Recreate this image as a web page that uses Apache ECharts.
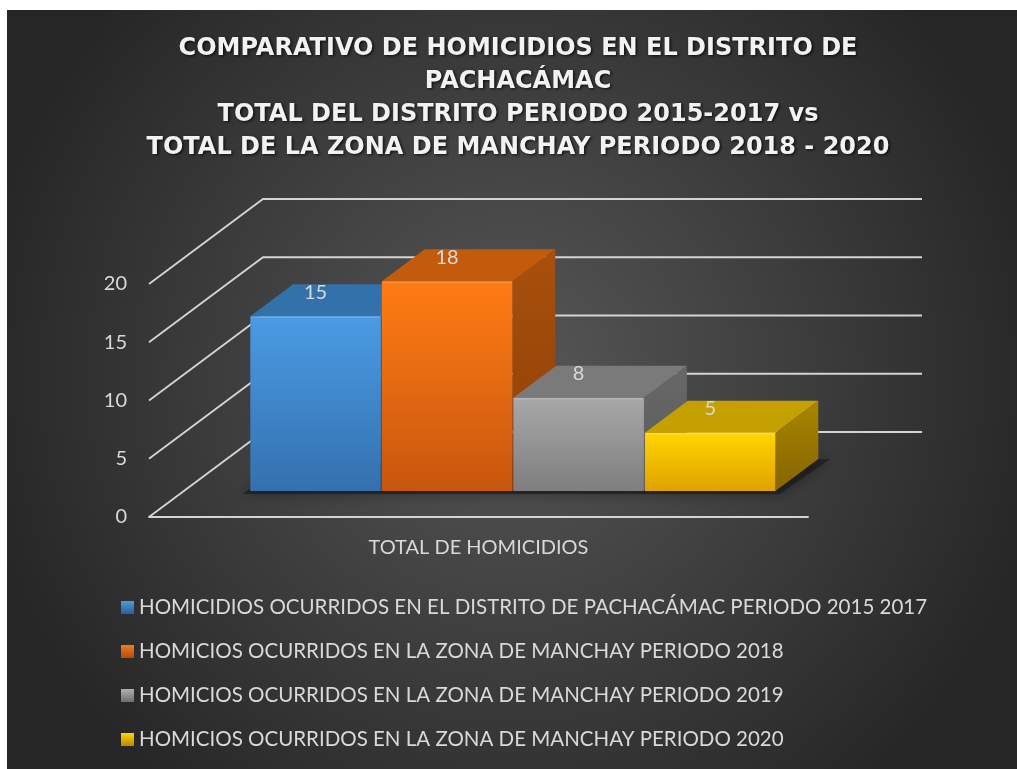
<!DOCTYPE html>
<html>
<head>
<meta charset="utf-8">
<title>Comparativo de homicidios</title>
<script src="https://cdn.jsdelivr.net/npm/echarts@6/dist/echarts.min.js"></script>
<style>
  html, body { margin: 0; padding: 0; background: #ffffff; }
  #chart { width: 1017px; height: 769px; }
</style>
</head>
<body>
<div id="chart"></div>
<script>
// ---- data ----
const categories = ['TOTAL DE HOMICIDIOS'];
const seriesNames = [
  'HOMICIDIOS OCURRIDOS EN EL DISTRITO DE PACHACÁMAC PERIODO 2015 2017',
  'HOMICIOS OCURRIDOS EN LA ZONA DE MANCHAY PERIODO 2018',
  'HOMICIOS OCURRIDOS EN LA ZONA DE MANCHAY PERIODO 2019',
  'HOMICIOS OCURRIDOS EN LA ZONA DE MANCHAY PERIODO 2020'
];
const seriesValues = [15, 18, 8, 5];
const yTicks = [0, 5, 10, 15, 20];
const titleLines = [
  'COMPARATIVO DE HOMICIDIOS EN EL DISTRITO DE',
  'PACHACÁMAC',
  'TOTAL DEL DISTRITO PERIODO 2015-2017 vs',
  'TOTAL DE LA ZONA DE MANCHAY PERIODO 2018 - 2020'
];

// ---- 3D look: oblique projection of the back wall and the bar depth ----
const WALL_DX = 114, WALL_DY = -85;   // offset of the back wall
const BAR_FRONT = 0.306;              // where the bars' front faces sit (fraction of depth)
const BAR_DEPTH = 0.376;              // depth of each bar (fraction of depth)
const BAR_SHARE = 0.1996;             // width of one bar as share of the category band

const palette = [
  { front: ['#4a9be4', '#3470ae'], top: '#3371aa', side: ['#2f6499', '#24507c'], legend: ['#4a9be4', '#2c5f94'] },
  { front: ['#ff7c14', '#c8560f'], top: '#c25b0c', side: ['#a9500c', '#8e3f08'], legend: ['#f57a1c', '#b34c0c'] },
  { front: ['#a8a8a8', '#7e7e7e'], top: '#7a7a7a', side: ['#686868', '#5a5a5a'], legend: ['#b0b0b0', '#6e6e6e'] },
  { front: ['#ffd600', '#e0a200'], top: '#c4a000', side: ['#a88600', '#876400'], legend: ['#ffd600', '#b88a00'] }
];

const LABEL_FONT = 'Lato, "Open Sans", sans-serif';
const TEXT_COLOR = '#d9d9d9';

function vGrad(c) {
  return new echarts.graphic.LinearGradient(0, 0, 0, 1, [
    { offset: 0, color: c[0] }, { offset: 1, color: c[1] }
  ]);
}

function barGeometry(params, api, idx, value) {
  const base = api.coord([0, 0]);
  const top = api.coord([0, value]);
  const band = api.size([1, 0])[0];
  const barW = band * BAR_SHARE;
  const left = base[0] - 2 * barW + WALL_DX * BAR_FRONT;
  const x0 = left + idx * barW;
  const x1 = x0 + barW - 1;
  const yb = base[1] + WALL_DY * BAR_FRONT;
  const yt = top[1] + WALL_DY * BAR_FRONT;
  const dx = WALL_DX * BAR_DEPTH, dy = WALL_DY * BAR_DEPTH;
  return { x0, x1, yb, yt, dx, dy };
}

function barRenderer(idx) {
  return function (params, api) {
    const v = api.value(1);
    const g = barGeometry(params, api, idx, v);
    const c = palette[idx];
    return {
      type: 'group',
      children: [
        { // side face
          type: 'polygon',
          shape: { points: [[g.x1, g.yt], [g.x1 + g.dx, g.yt + g.dy], [g.x1 + g.dx, g.yb + g.dy], [g.x1, g.yb]] },
          style: { fill: vGrad(c.side) }
        },
        { // top face
          type: 'polygon',
          shape: { points: [[g.x0, g.yt], [g.x1, g.yt], [g.x1 + g.dx, g.yt + g.dy], [g.x0 + g.dx, g.yt + g.dy]] },
          style: { fill: c.top }
        },
        { // front face
          type: 'rect',
          shape: { x: g.x0, y: g.yt, width: g.x1 - g.x0, height: g.yb - g.yt },
          style: { fill: vGrad(c.front) }
        },
        { // bevel highlight along the top front edge
          type: 'line',
          shape: { x1: g.x0 + 1, y1: g.yt + 1, x2: g.x1 - 1, y2: g.yt + 1 },
          style: { stroke: 'rgba(255,255,255,0.18)', lineWidth: 1.5 }
        },
        { // value label
          type: 'text',
          x: (g.x0 + g.x1) / 2,
          y: g.yt + g.dy + 8,
          style: {
            text: String(v), fill: TEXT_COLOR, font: '20px ' + LABEL_FONT,
            align: 'center', verticalAlign: 'middle'
          }
        }
      ]
    };
  };
}

// back-wall gridlines running from the front edge to the back wall
function gridRenderer(params, api) {
  const v = api.value(1);
  const p = api.coord([0, v]);
  const gx = params.coordSys.x, gw = params.coordSys.width;
  return {
    type: 'polyline',
    shape: { points: [[gx, p[1]], [gx + WALL_DX, p[1] + WALL_DY], [gx + WALL_DX + gw, p[1] + WALL_DY]] },
    style: { stroke: '#d4d4d4', lineWidth: 1.8, fill: null }
  };
}

// soft shadow of the bar block on the floor
function shadowRenderer(params, api) {
  const first = barGeometry(params, api, 0, 0);
  const last = barGeometry(params, api, seriesValues.length - 1, 0);
  const pts = [
    [first.x0 - 8, first.yb + 3], [last.x1 + 4, last.yb + 3],
    [last.x1 + last.dx + 12, last.yb + last.dy], [first.x0 + first.dx, first.yb + first.dy]
  ];
  return {
    type: 'polygon',
    shape: { points: pts },
    style: { fill: 'rgba(20,20,20,0.55)', shadowBlur: 14, shadowColor: 'rgba(0,0,0,0.7)' }
  };
}

const series = [
  {
    type: 'custom', name: 'gridlines', z: 1, silent: true,
    renderItem: gridRenderer,
    data: yTicks.map(v => [0, v])
  },
  {
    type: 'custom', name: 'floor', z: 2, silent: true,
    renderItem: shadowRenderer,
    data: [[0, 0]]
  }
].concat(seriesNames.map((name, i) => ({
  type: 'custom', name: name, z: 3 + i,
  itemStyle: { color: vGrad(palette[i].legend) },
  renderItem: barRenderer(i),
  data: [[0, seriesValues[i]]]
})));

const chart = echarts.init(document.getElementById('chart'), null, { renderer: 'canvas' });
chart.setOption({
  animation: false,
  backgroundColor: '#ffffff',
  graphic: [
    {
      type: 'rect', z: -10, silent: true,
      shape: { x: 7, y: 10, width: 1010, height: 759 },
      style: {
        fill: new echarts.graphic.RadialGradient(0.5, 0.48, 0.72, [
          { offset: 0, color: '#575757' },
          { offset: 1, color: '#262626' }
        ])
      }
    },
    {
      type: 'text', z: 10, silent: true,
      x: 518, y: 32,
      style: {
        text: titleLines.join('\n'),
        font: 'bold 24px "DejaVu Sans", "Open Sans", sans-serif',
        fill: '#f2f2f2', align: 'center', verticalAlign: 'top', lineHeight: 33,
        textShadowColor: 'rgba(0,0,0,0.75)', textShadowBlur: 3,
        textShadowOffsetX: 1.5, textShadowOffsetY: 1.5
      }
    }
  ],
  grid: { left: 149, right: 209, top: 284, bottom: 252, containLabel: false },
  xAxis: {
    type: 'category',
    data: categories,
    axisLine: { show: true, lineStyle: { color: '#d4d4d4', width: 1.8 } },
    axisTick: { show: false },
    axisLabel: { color: TEXT_COLOR, fontSize: 20, fontFamily: LABEL_FONT, margin: 21 },
    splitLine: { show: false }
  },
  yAxis: {
    type: 'value',
    min: 0, max: 20, interval: 5,
    axisLine: { show: false },
    axisTick: { show: false },
    splitLine: { show: false },
    axisLabel: { color: TEXT_COLOR, fontSize: 20, fontFamily: LABEL_FONT, margin: 22 }
  },
  legend: {
    data: seriesNames,
    orient: 'vertical',
    left: 116, top: 592,
    itemWidth: 13, itemHeight: 13, itemGap: 23,
    icon: 'rect',
    textStyle: { color: TEXT_COLOR, fontSize: 20.5, fontFamily: LABEL_FONT, lineHeight: 18 },
    selectedMode: false
  },
  series: series
});
</script>
</body>
</html>
